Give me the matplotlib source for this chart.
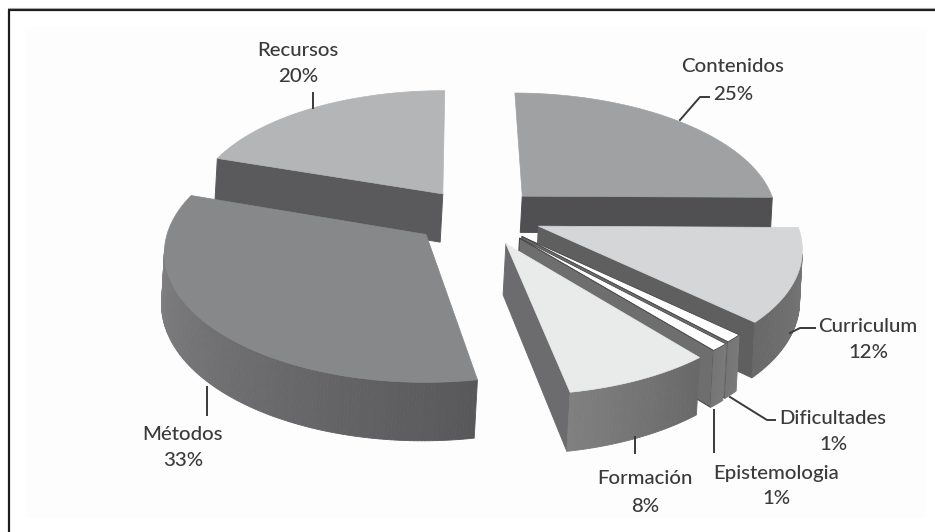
import numpy as np, matplotlib
matplotlib.use('Agg')
import matplotlib.pyplot as plt
from matplotlib.patches import Polygon, Rectangle

categories = ['Contenidos', 'Curriculum', 'Dificultades', 'Epistemologia', 'Formación', 'Métodos', 'Recursos']
values = [25, 12, 1, 1, 8, 33, 20]
explode = [0.274, 0.257, 0.249, 0.252, 0.258, 0.250, 0.228]

top_colors = ['#a0a1a3', '#d5d6d7', '#ffffff', '#ffffff', '#e9eaea', '#87888a', '#b4b5b7']
cut_colors = ['#505052', '#5f5f60', '#6c6c6c', '#6e6e6e', '#6c6c6e', '#666668', '#5a5a5c']
arc_start = ['#6a6a6a', '#7c7c7c', '#7a7a7a', '#7a7a7a', '#686868', '#58585a', '#8c8c8c']
arc_end = ['#6a6a6a', '#686868', '#767676', '#767676', '#808080', '#8b8b8d', '#8c8c8c']
heights = [0.75, 1, 1, 1, 1, 1, 1]
nudge_x = [-1, 1, 0, 0, 1, -1, 1]
nudge_y = [5, 0, 0, 0, 0, 0, 2]
draw_order = [6, 0, 1, 5, 2, 3, 4]
hide_start_wall = [True, False, False, False, False, False, False]

# camera: ground plane (X, Y) of a unit pie and depth Z into screen pixels
CAM = [252.408, 60.813, 2.807, 475.519, 0.211, -94.047, -49.414, 214.089, -0.00489, 0.13251, 0.00016]

def proj(X, Y, Z):
    p = CAM
    w = p[8]*X + p[9]*Y + p[10]*Z + 1
    return (p[0]*X + p[1]*Y + p[2]*Z + p[3])/w, (p[4]*X + p[5]*Y + p[6]*Z + p[7])/w

plt.rcParams['font.family'] = ['Lato', 'DejaVu Sans']
fig = plt.figure(figsize=(9.35, 5.32), dpi=100, facecolor='white')
ax = fig.add_axes([0, 0, 1, 1])
ax.set_xlim(0, 935); ax.set_ylim(532, 0); ax.axis('off')

# frame and faint panel
ax.add_patch(Rectangle((25, 27), 902, 491, fc='#fdfdfd', ec='none', zorder=0))
ax.plot([8.5, 8.5], [532, 9.5], color='#1c1c1c', lw=1.6, zorder=1, solid_capstyle='butt')
ax.plot([7.5, 935], [9.5, 9.5], color='#1c1c1c', lw=1.6, zorder=1, solid_capstyle='butt')
ax.plot([7.5, 935], [8, 8], color='#a8a8a8', lw=0.8, zorder=1)

frac = np.cumsum([0] + values) / sum(values)
th0 = np.pi/2 - 2*np.pi*frac[:-1]
th1 = np.pi/2 - 2*np.pi*frac[1:]

def hex2(c):
    return np.array(matplotlib.colors.to_rgb(c))

def front(q):
    q = np.asarray(q)
    return np.sum(q[:, 0]*np.roll(q[:, 1], -1) - np.roll(q[:, 0], -1)*q[:, 1]) < 0

z = 2
for i in draw_order:
    m = (th0[i] + th1[i]) / 2
    ax0, ay0 = explode[i]*np.cos(m), explode[i]*np.sin(m)
    t = np.linspace(th0[i], th1[i], max(6, int(values[i]*5)))
    X = ax0 + np.cos(t); Y = ay0 + np.sin(t)
    xt, yt = proj(X, Y, 0*X)
    xb, yb = proj(X, Y, 0*X - heights[i])
    axt, ayt = proj(ax0, ay0, 0.0)
    axb, ayb = proj(ax0, ay0, -heights[i])
    dx, dy = nudge_x[i], nudge_y[i]
    xt, xb, axt, axb = xt + dx, xb + dx, axt + dx, axb + dx
    yt, yb, ayt, ayb = yt + dy, yb + dy, ayt + dy, ayb + dy

    edge = '#3c3c3c' if i in (2, 3) else None
    # straight cut walls
    walls = [[(axt, ayt), (xt[0], yt[0]), (xb[0], yb[0]), (axb, ayb)],
             [(xt[-1], yt[-1]), (axt, ayt), (axb, ayb), (xb[-1], yb[-1])]]
    if hide_start_wall[i]:
        walls = walls[1:]
    for q in walls:
        if front(q):
            ax.add_patch(Polygon(q, closed=True, fc=cut_colors[i], ec=edge or cut_colors[i], lw=0.7, zorder=z))
    # curved outer wall, shaded along the arc
    c0, c1 = hex2(arc_start[i]), hex2(arc_end[i])
    for k in range(len(t) - 1):
        q = [(xt[k], yt[k]), (xt[k+1], yt[k+1]), (xb[k+1], yb[k+1]), (xb[k], yb[k])]
        if front(q):
            c = c0 + (c1 - c0)*(k + 0.5)/(len(t) - 1)
            ax.add_patch(Polygon(q, closed=True, fc=c, ec=c, lw=0.6, zorder=z))
    # top face
    ax.add_patch(Polygon(np.c_[np.r_[axt, xt], np.r_[ayt, yt]], closed=True, fc=top_colors[i],
                         ec=edge or top_colors[i], lw=0.5, zorder=z + 0.5))
    z += 1

ink = '#3a3a3a'
leaders = [([680, 700, 709], [120, 97, 97]), ([790, 800, 815], [333, 328, 328]),
           ([730, 767, 775], [397, 420, 420]), ([714, 714], [410, 452]),
           ([635, 635], [437, 453]), ([207, 207], [387, 415]), ([313, 313], [93, 108])]
for lx, ly in leaders:
    ax.plot(lx, ly, color=ink, lw=1.4, zorder=30)

label_pos = [(733, 66, 94), (868, 326, 353), (833, 418, 444), (776, 473, 499),
             (645, 478, 506), (183, 434, 461), (298, 51, 77)]
for (name, v, (x, y1, y2)) in zip(categories, values, label_pos):
    ax.text(x, y1, name, ha='center', va='center', fontsize=14.7, color=ink, weight='medium', zorder=31)
    ax.text(x, y2, f'{v}%', ha='center', va='center', fontsize=14.7, color=ink, weight='medium', zorder=31)

fig.savefig('out.png', dpi=100)
